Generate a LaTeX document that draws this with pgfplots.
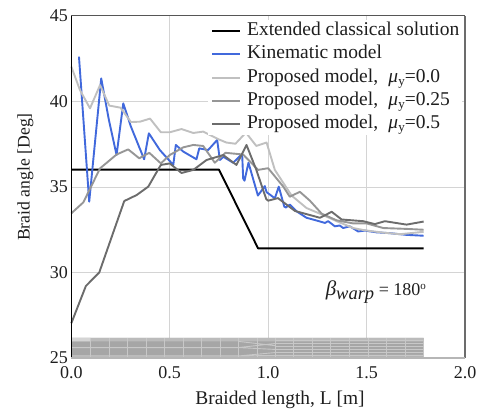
\documentclass[border=0pt]{standalone}
\usepackage{fontspec}
\setmainfont{Liberation Serif}
\usepackage{pgfplots}
\pgfplotsset{compat=1.18}
\definecolor{cblue}{HTML}{4169DC}
\definecolor{clight}{HTML}{C0C0C0}
\definecolor{cmid}{HTML}{969696}
\definecolor{cdark}{HTML}{6C6C6C}
\definecolor{ctext}{HTML}{1E1E1E}
\definecolor{cgrid}{HTML}{D4D4D4}
\newcommand{\muy}{{\itshape μ}\raisebox{-3bp}{\fontsize{13bp}{14bp}\selectfont y}}
\begin{document}
\begin{tikzpicture}[x=1bp,y=1bp]
\path[use as bounding box] (-71.3bp,-56bp) rectangle (413.7bp,358bp);
\begin{axis}[
  at={(0,0)}, anchor=south west,
  scale only axis, width=393.7bp, height=342bp,
  xmin=0, xmax=2, ymin=25, ymax=45,
  xtick={0,0.5,1,1.5,2}, ytick={25,30,35,40,45},
  xticklabels={0.0,0.5,1.0,1.5,2.0},
  tick style={draw=none},
  axis line style={draw=none},
  grid=major, grid style={cgrid, line width=1bp},
  /pgf/number format/assume math mode=true,
  ticklabel style={font=\fontsize{18bp}{20bp}\selectfont, text=ctext},
  xticklabel style={yshift=-5bp},
  yticklabel style={xshift=0bp},
  xlabel={Braided length, L [m]},
  ylabel={Braid angle [Deg]},
  xlabel style={font=\fontsize{19.4bp}{22bp}\selectfont, text=ctext,
    at={(axis description cs:0.53,0)},anchor=center,yshift=-42bp},
  ylabel style={font=\fontsize{17.7bp}{20bp}\selectfont, text=ctext,
    at={(axis description cs:0,0.529)},anchor=center,yshift=46bp},
  legend style={at={(axis description cs:0.347,0.990)},anchor=north west,
    draw=none, fill=white, inner xsep=3bp, inner ysep=2bp,
    font=\fontsize{19.5bp}{22bp}\selectfont,
    row sep=4.2bp, column sep=6bp,
    nodes={inner sep=0pt, text height=14bp, text depth=5bp, text=ctext}},
  legend cell align=left,
  legend image code/.code={\draw[#1,line width=2bp,line cap=butt] (0bp,0bp)--(28bp,0bp);},
  every axis plot/.append style={line width=1.9bp, line join=round, no markers},
  clip=false,
]
\addplot[black] coordinates {(0,36.02)(0.75,36.02)(0.949,31.41)(1.79,31.41)};
\addlegendentry{Extended classical solution}
\addplot[cblue] coordinates {(0.039,42.62)(0.091,34.14)(0.152,41.35)(0.191,38.92)(0.23,36.87)(0.264,39.89)(0.303,38.53)(0.37,36.62)(0.394,38.14)(0.45,37.16)(0.518,36.29)(0.531,37.46)(0.569,37.07)(0.636,36.62)(0.65,37.26)(0.695,37.16)(0.741,37.75)(0.755,36.58)(0.772,36.77)(0.822,36.42)(0.868,36.93)(0.873,35.5)(0.88,35.37)(0.9,36.42)(0.948,34.5)(0.983,35.05)(0.992,34.7)(1.034,34.34)(1.054,35.02)(1.082,33.85)(1.09,33.8)(1.11,33.97)(1.144,33.58)(1.195,33.2)(1.237,33.07)(1.288,32.9)(1.305,33.0)(1.339,32.7)(1.364,32.75)(1.381,32.6)(1.415,32.7)(1.457,32.4)(1.491,32.45)(1.55,32.35)(1.618,32.3)(1.703,32.2)(1.79,32.15)};
\addlegendentry{Kinematic model}
\addplot[clight] coordinates {(0,42.04)(0.044,40.67)(0.095,39.6)(0.146,40.96)(0.193,39.76)(0.25,39.64)(0.303,38.8)(0.349,38.82)(0.4,39.0)(0.455,38.2)(0.5,38.2)(0.56,38.39)(0.62,38.16)(0.67,38.24)(0.746,37.8)(0.788,37.6)(0.834,37.53)(0.887,38.18)(0.94,37.4)(0.992,37.6)(1.034,36.0)(1.119,34.5)(1.195,33.77)(1.263,33.44)(1.348,33.0)(1.432,32.6)(1.49,32.47)(1.585,32.33)(1.67,32.24)(1.79,32.38)};
\addlegendentry{Proposed model,\; \muy=0.0}
\addplot[cmid] coordinates {(0,33.46)(0.061,34.1)(0.146,36.09)(0.23,36.9)(0.289,37.2)(0.345,36.68)(0.396,37.0)(0.455,36.38)(0.5,36.87)(0.569,37.32)(0.62,37.46)(0.67,37.4)(0.729,36.42)(0.783,37.0)(0.873,36.9)(0.949,36.0)(1.0,36.1)(1.077,35.02)(1.11,34.43)(1.161,34.72)(1.212,34.2)(1.272,33.44)(1.348,33.05)(1.432,32.87)(1.5,32.87)(1.585,32.6)(1.703,32.55)(1.79,32.5)};
\addlegendentry{Proposed model,\; \muy=0.25}
\addplot[cdark] coordinates {(0,27.03)(0.074,29.21)(0.142,30.0)(0.269,34.18)(0.332,34.53)(0.391,35.02)(0.44,36.0)(0.455,36.29)(0.5,36.38)(0.56,35.82)(0.62,36.0)(0.687,36.58)(0.772,36.87)(0.839,36.29)(0.89,37.46)(0.94,36.0)(0.99,34.3)(1.0,34.2)(1.05,34.35)(1.136,33.6)(1.263,33.2)(1.323,33.55)(1.373,33.1)(1.483,33.0)(1.542,32.83)(1.593,33.0)(1.703,32.8)(1.79,32.98)};
\addlegendentry{Proposed model,\; \muy=0.5}
% mesh strip
\addplot[forget plot, draw=none, fill=cmid!85!white, line width=0pt] coordinates {(0,24.98)(1.79,24.98)(1.79,26.17)(0,26.17)} \closedcycle;
\addplot[forget plot, draw=none, fill=cmid!65!white, line width=0pt] coordinates {(0,25.97)(1.79,25.97)(1.79,26.17)(0,26.17)} \closedcycle;
\addplot[forget plot, draw=none, fill=cgrid, line width=0pt] coordinates {(0,25.97)(0.098,25.97)(0.098,26.17)(0,26.17)} \closedcycle;
\addplot[forget plot, draw=none, fill=cmid!65!white, line width=0pt] coordinates {(0,24.98)(1.79,24.98)(1.79,25.09)(0,25.09)} \closedcycle;
\addplot[forget plot, draw=cgrid!80!cmid, line width=0.9bp, unbounded coords=jump] coordinates {
 (0,25.61)(0.85,25.61)(nan,nan)
 (0,25.12)(0.85,25.12)(nan,nan)
 (0.85,25.61)(1.037,25.85)(nan,nan)
 (0.85,25.61)(1.037,25.5)(nan,nan)
 (0.85,25.12)(1.037,25.32)(nan,nan)
 (0.85,25.12)(1.037,25.15)(nan,nan)
 (0.85,25.97)(1.037,25.72)(nan,nan)
 (1.037,26.02)(1.79,26.02)(nan,nan)
 (1.037,25.85)(1.79,25.85)(nan,nan)
 (1.037,25.67)(1.79,25.67)(nan,nan)
 (1.037,25.5)(1.79,25.5)(nan,nan)
 (1.037,25.32)(1.79,25.32)(nan,nan)
 (1.037,25.15)(1.79,25.15)(nan,nan)
};
\addplot[forget plot, draw=cgrid!80!cmid, line width=0.9bp, unbounded coords=jump] coordinates {
 (0.098,25)(0.098,26.17)(nan,nan)(0.192,25)(0.192,26.17)(nan,nan)
 (0.286,25)(0.286,26.17)(nan,nan)(0.38,25)(0.38,26.17)(nan,nan)
 (0.474,25)(0.474,26.17)(nan,nan)(0.568,25)(0.568,26.17)(nan,nan)
 (0.662,25)(0.662,26.17)(nan,nan)(0.756,25)(0.756,26.17)(nan,nan)
 (0.85,25)(0.85,26.17)(nan,nan)(0.944,25)(0.944,26.17)(nan,nan)
 (1.037,25)(1.037,26.17)(nan,nan)(1.131,25)(1.131,26.17)(nan,nan)
 (1.225,25)(1.225,26.17)(nan,nan)(1.319,25)(1.319,26.17)(nan,nan)
 (1.413,25)(1.413,26.17)(nan,nan)(1.507,25)(1.507,26.17)(nan,nan)
 (1.601,25)(1.601,26.17)(nan,nan)(1.695,25)(1.695,26.17)
};
% frame
\draw[black, line width=1.5bp] (axis description cs:0,0)--(axis description cs:0,1);
\draw[cdark!80!black, line width=1bp] (axis description cs:0,1)--(axis description cs:1,1);
\draw[cdark, line width=1.2bp] (axis description cs:1,1)--(axis description cs:1,0);
\draw[cmid!70!white, line width=1.6bp] (axis description cs:0,0)--(axis description cs:1,0);
\node[text=ctext, font=\fontsize{21bp}{24bp}\selectfont, anchor=center] at (axis cs:1.547,28.85)
  {{\itshape β}\raisebox{-3.5bp}{\fontsize{18.5bp}{22bp}\selectfont\itshape warp}\fontsize{18bp}{22bp}\selectfont\ = 180\raisebox{6.5bp}{\fontsize{11bp}{12bp}\selectfont o}};
\end{axis}
\end{tikzpicture}
\end{document}
